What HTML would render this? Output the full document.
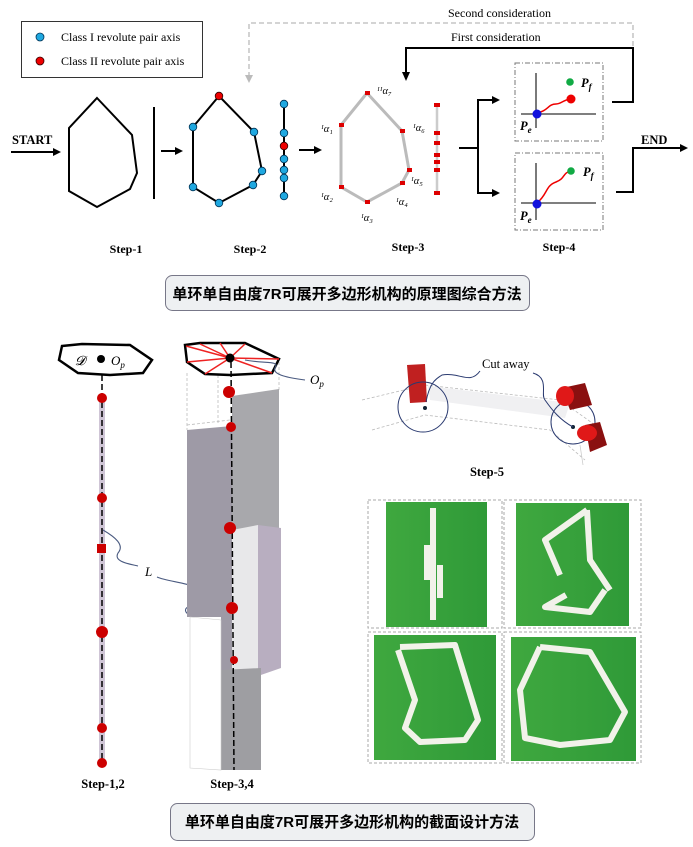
<!DOCTYPE html>
<html><head><meta charset="utf-8"><style>
html,body{margin:0;padding:0;background:#fff;overflow:hidden}
svg{display:block}
text{font-family:"Liberation Serif",serif}
.b{font-weight:bold}
.cap{font-family:"Liberation Sans","Noto Sans CJK SC",sans-serif;font-weight:bold;font-size:15px}
</style></head><body>
<svg width="693" height="847" viewBox="0 0 693 847" xmlns="http://www.w3.org/2000/svg">
<defs>
<linearGradient id="gr2" x1="0" x2="1"><stop offset="0" stop-color="#3fa83f"/><stop offset="1" stop-color="#2f9a38"/></linearGradient>
</defs>
<!-- legend -->
<rect x="21.5" y="21.5" width="181" height="56" fill="#fff" stroke="#333" stroke-width="1"/>
<circle cx="40" cy="37" r="4" fill="#1fa8e0" stroke="#035" stroke-width="0.8"/>
<text x="61" y="41" font-size="12">Class I revolute pair axis</text>
<circle cx="40" cy="61" r="4" fill="#e00" stroke="#300" stroke-width="0.8"/>
<text x="61" y="65" font-size="12">Class II revolute pair axis</text>
<!-- considerations -->
<text x="448" y="17" font-size="12">Second consideration</text>
<path d="M249,77 V23 H633 V47" fill="none" stroke="#bbb" stroke-width="1.3" stroke-dasharray="5,3"/>
<polygon points="245,75 253,75 249,83" fill="#bbb"/>
<text x="451" y="41" font-size="12">First consideration</text>
<path d="M612,102 H633 V48 H406 V73" fill="none" stroke="#000" stroke-width="2"/>
<polygon points="402,72 410,72 406,81" fill="#000"/>
<!-- start -->
<text x="12" y="144" font-size="12.5" class="b">START</text>
<line x1="11" y1="152" x2="54" y2="152" stroke="#000" stroke-width="2"/>
<polygon points="53,148 61,152 53,156" fill="#000"/>
<!-- step1 -->
<polygon points="97,98 132,135 137,173 130,189 97,207 69,191 69,128" fill="none" stroke="#000" stroke-width="2"/>
<line x1="154" y1="107" x2="154" y2="199" stroke="#000" stroke-width="2"/>
<line x1="161" y1="151" x2="176" y2="151" stroke="#000" stroke-width="2"/>
<polygon points="175,147 183,151 175,155" fill="#000"/>
<!-- step2 -->
<polygon points="219,96 193,127 193,187 219,203 253,185 262,171 254,132" fill="none" stroke="#000" stroke-width="2"/>
<g fill="#1fa8e0" stroke="#035" stroke-width="0.8">
<circle cx="193" cy="127" r="3.8"/><circle cx="193" cy="187" r="3.8"/><circle cx="219" cy="203" r="3.8"/><circle cx="253" cy="185" r="3.8"/><circle cx="262" cy="171" r="3.8"/><circle cx="254" cy="132" r="3.8"/>
</g>
<circle cx="219" cy="96" r="3.8" fill="#e00" stroke="#300" stroke-width="0.8"/>
<line x1="284" y1="104" x2="284" y2="197" stroke="#000" stroke-width="2"/>
<g fill="#1fa8e0" stroke="#035" stroke-width="0.8">
<circle cx="284" cy="104" r="3.8"/><circle cx="284" cy="133" r="3.8"/><circle cx="284" cy="159" r="3.8"/><circle cx="284" cy="170" r="3.8"/><circle cx="284" cy="178" r="3.8"/><circle cx="284" cy="196" r="3.8"/>
</g>
<circle cx="284" cy="146" r="3.8" fill="#e00" stroke="#300" stroke-width="0.8"/>
<line x1="299" y1="150" x2="315" y2="150" stroke="#000" stroke-width="2"/>
<polygon points="314,146 322,150 314,154" fill="#000"/>
<!-- step3 -->
<polygon points="367,93 341,125 341,187 367,202 402,183 409,170 402,131" fill="none" stroke="#bbb" stroke-width="3"/>
<g fill="#d00">
<rect x="365" y="91" width="5" height="4"/><rect x="339" y="123" width="5" height="4"/><rect x="339" y="185" width="5" height="4"/><rect x="365" y="200" width="5" height="4"/><rect x="400" y="181" width="5" height="4"/><rect x="407" y="168" width="5" height="4"/><rect x="400" y="129" width="5" height="4"/>
</g>
<g font-size="10.5" font-style="italic">
<text x="377" y="94">ᴵᴵα₇</text><text x="321" y="132">ᴵα₁</text><text x="413" y="131">ᴵα₆</text><text x="411" y="184">ᴵα₅</text><text x="321" y="200">ᴵα₂</text><text x="396" y="205">ᴵα₄</text><text x="361" y="221">ᴵα₃</text>
</g>
<line x1="437" y1="104" x2="437" y2="193" stroke="#ccc" stroke-width="2.5"/>
<g fill="#d00"><rect x="434" y="103" width="6" height="4"/><rect x="434" y="131" width="6" height="4"/><rect x="434" y="141" width="6" height="4"/><rect x="434" y="153" width="6" height="4"/><rect x="434" y="160" width="6" height="4"/><rect x="434" y="168" width="6" height="4"/><rect x="434" y="191" width="6" height="4"/></g>
<!-- branch -->
<path d="M459,148 H478 V100 H493 M478,148 V193 H493" fill="none" stroke="#000" stroke-width="2"/>
<polygon points="492,96 500,100 492,104" fill="#000"/><polygon points="492,189 500,193 492,197" fill="#000"/>
<!-- step4 boxes -->
<g fill="none" stroke="#777" stroke-width="1" stroke-dasharray="5,2,1,2">
<rect x="515" y="63" width="88" height="78"/><rect x="515" y="153" width="88" height="77"/>
</g>
<g stroke="#333" stroke-width="1.3"><line x1="536" y1="73" x2="536" y2="128"/><line x1="521" y1="114" x2="596" y2="114"/><line x1="536" y1="163" x2="536" y2="220"/><line x1="521" y1="203" x2="596" y2="203"/></g>
<path d="M537,113 C548,111 548,104 556,104 C562,104 562,100 571,99" fill="none" stroke="#e00" stroke-width="1.5"/>
<path d="M537,203 C548,194 545,186 556,182 C566,178 562,173 571,171" fill="none" stroke="#e00" stroke-width="1.5"/>
<circle cx="537" cy="114" r="4.5" fill="#11d"/><circle cx="537" cy="204" r="4.5" fill="#11d"/>
<circle cx="571" cy="99" r="4.5" fill="#e00"/><circle cx="570" cy="82" r="3.8" fill="#1a4"/><circle cx="571" cy="171" r="3.8" fill="#1a4"/>
<g font-size="12.5" font-weight="bold" font-style="italic"><text x="581" y="87">P<tspan font-size="9" dy="3">f</tspan></text><text x="520" y="130">P<tspan font-size="9" dy="3">e</tspan></text><text x="583" y="176">P<tspan font-size="9" dy="3">f</tspan></text><text x="520" y="220">P<tspan font-size="9" dy="3">e</tspan></text></g>
<text x="641" y="144" font-size="12.5" class="b">END</text>
<path d="M616,192 H633 V148 H681" fill="none" stroke="#000" stroke-width="2"/>
<polygon points="680,144 688,148 680,152" fill="#000"/>
<g font-size="12" class="b" text-anchor="middle"><text x="126" y="253">Step-1</text><text x="250" y="253">Step-2</text><text x="408" y="251">Step-3</text><text x="559" y="251">Step-4</text></g>
<!-- caption 1 -->
<rect x="165.5" y="275.5" width="364" height="35" rx="7" fill="#eef0f2" stroke="#778" stroke-width="1"/>
<text x="347" y="299" class="cap" text-anchor="middle">单环单自由度7R可展开多边形机构的原理图综合方法</text>

<!-- bottom left -->
<polygon points="62,346 82,344 130,345 152,360 143,373 110,375 78,373 59,360" fill="#fff" stroke="#000" stroke-width="2.5"/>
<text x="75" y="365" font-size="13" font-style="italic">𝓓</text>
<circle cx="101" cy="359" r="4" fill="#000"/>
<text x="111" y="365" font-size="13" font-style="italic">O<tspan font-size="9" dy="3">p</tspan></text>
<rect x="99" y="398" width="6" height="366" fill="#cfc5d6"/>
<line x1="102" y1="375" x2="102" y2="765" stroke="#000" stroke-width="1.5" stroke-dasharray="6,3"/>
<g fill="#c00"><circle cx="102" cy="398" r="5"/><circle cx="102" cy="498" r="5"/><rect x="97" y="544" width="9" height="9"/><circle cx="102" cy="632" r="6"/><circle cx="102" cy="728" r="5"/><circle cx="102" cy="763" r="5"/></g>
<path d="M103,530 C115,537 125,545 118,553 C113,562 130,564 138,566 M157,577 C170,583 205,583 204,597 C202,607 182,604 186,612 C190,620 225,612 232,616" fill="none" stroke="#4a5a80" stroke-width="1.1"/>
<text x="145" y="576" font-size="13" font-style="italic">L</text>
<text x="103" y="788" font-size="12.5" class="b" text-anchor="middle">Step-1,2</text>
<!-- step 3,4 prisms -->
<g fill="none" stroke="#bbb" stroke-width="0.8" stroke-dasharray="3,2">
<line x1="187" y1="373" x2="187" y2="430"/><line x1="218" y1="375" x2="218" y2="425"/><line x1="279" y1="362" x2="279" y2="392"/><path d="M187,425 L230,420 L279,392"/>
</g>
<polygon points="232,396 279,389 279,530 232,530" fill="#a8a8ac"/>
<polygon points="187,430 232,426 232,617 187,617" fill="#9e9aa6"/>
<polygon points="232,530 258,525 258,670 232,670" fill="#e8e8ea"/>
<polygon points="258,525 281,528 281,668 258,676" fill="#b8aec0"/>
<polygon points="221,617 232,615 232,670 221,670" fill="#9e9aa6"/>
<polygon points="221,670 261,668 261,770 221,770" fill="#9e9ea2"/>
<polygon points="190,617 221,620 221,770 190,768" fill="#fff" stroke="#ccc" stroke-width="0.6"/>
<polygon points="185,345 200,343 245,343 279,359 272,373 230,375 205,374 187,362" fill="#fff" stroke="#000" stroke-width="2.5"/>
<g stroke="#e22" stroke-width="1.5"><line x1="230" y1="358" x2="200" y2="344"/><line x1="230" y1="358" x2="245" y2="344"/><line x1="230" y1="358" x2="279" y2="359"/><line x1="230" y1="358" x2="272" y2="373"/><line x1="230" y1="358" x2="205" y2="374"/><line x1="230" y1="358" x2="187" y2="362"/><line x1="230" y1="358" x2="186" y2="346"/><line x1="230" y1="358" x2="220" y2="343"/></g>
<circle cx="230" cy="358" r="4.5" fill="#000"/>
<line x1="231" y1="362" x2="234" y2="770" stroke="#000" stroke-width="1.5" stroke-dasharray="6,3"/>
<g fill="#c00"><circle cx="229" cy="392" r="6"/><circle cx="231" cy="427" r="5"/><circle cx="230" cy="528" r="6"/><circle cx="232" cy="608" r="6"/><circle cx="234" cy="660" r="4"/></g>
<path d="M245,360 C265,364 280,360 275,368 C272,375 290,378 305,380" fill="none" stroke="#4a5a80" stroke-width="1.1"/>
<text x="310" y="384" font-size="13" font-style="italic">O<tspan font-size="9" dy="3">p</tspan></text>
<text x="232" y="788" font-size="12.5" class="b" text-anchor="middle">Step-3,4</text>
<!-- step 5 -->
<g stroke="#bbb" stroke-width="0.8" fill="none" stroke-dasharray="3,2">
<path d="M362,400 L425,385 L560,400 L595,425"/><path d="M372,430 L425,415 L550,430 L585,460"/>
</g>
<polygon points="428,386 570,403 565,418 430,400" fill="#f0f0f2"/>
<polygon points="407,365 425,364 427,402 410,403" fill="#c02020"/>
<circle cx="423" cy="407" r="25" fill="none" stroke="#2a3a70" stroke-width="1"/>
<circle cx="425" cy="408" r="2" fill="#123"/>
<circle cx="573" cy="422" r="22" fill="none" stroke="#2a3a70" stroke-width="1"/>
<circle cx="573" cy="427" r="2" fill="#123"/>
<polygon points="562,388 585,383 592,405 570,410" fill="#8a1010"/><ellipse cx="565" cy="396" rx="9" ry="10" fill="#e01818"/>
<polygon points="585,425 600,422 607,445 590,452" fill="#8a1010"/><ellipse cx="587" cy="433" rx="10" ry="8" fill="#e01818"/>
<line x1="580" y1="445" x2="583" y2="465" stroke="#ccc" stroke-width="0.8"/>
<path d="M426,402 C430,380 438,378 442,375 C460,372 470,385 480,371 M533,373 C550,378 540,395 545,400 C552,410 560,420 573,427" fill="none" stroke="#2a3a70" stroke-width="1"/>
<text x="482" y="368" font-size="12.5">Cut away</text>
<text x="487" y="476" font-size="12.5" class="b" text-anchor="middle">Step-5</text>
<!-- photos -->
<g fill="none" stroke="#aaa" stroke-width="1" stroke-dasharray="3,2">
<rect x="368" y="500" width="134" height="128"/><rect x="504" y="500" width="137" height="128"/><rect x="368" y="632" width="134" height="131"/><rect x="504" y="632" width="137" height="131"/>
</g>
<rect x="386" y="502" width="101" height="125" fill="url(#gr2)"/>
<rect x="516" y="503" width="113" height="123" fill="url(#gr2)"/>
<rect x="374" y="635" width="122" height="125" fill="url(#gr2)"/>
<rect x="511" y="637" width="125" height="124" fill="url(#gr2)"/>
<g fill="none" stroke="#f2f2ea" stroke-width="6" stroke-linejoin="round">
<path d="M433,508 V620 M427,545 V580 M440,565 V598"/>
<path d="M587,510 L545,540 L560,575 M587,510 L590,560 L610,590 M566,595 L545,607 L590,612 L605,590"/>
<path d="M400,647 L455,645 L478,720 L465,740 L420,742 L405,728 L415,700 L398,650"/>
<path d="M540,647 L590,652 L625,712 L610,740 L560,745 L525,738 L520,690 L540,647"/>
</g>
<!-- caption 2 -->
<rect x="170.5" y="803.5" width="364" height="37" rx="7" fill="#eef0f2" stroke="#778" stroke-width="1"/>
<text x="352" y="827" class="cap" text-anchor="middle">单环单自由度7R可展开多边形机构的截面设计方法</text>
</svg>
</body></html>
